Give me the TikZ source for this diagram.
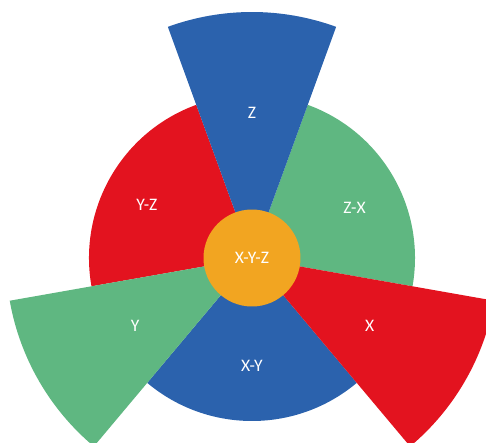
\documentclass[tikz,border=0pt]{standalone}
\usepackage{fontspec}
\setmainfont{Carlito}
\begin{document}
\begin{tikzpicture}[scale=0.02, label/.style={text=white, font=\fontsize{10}{12}\selectfont}]
    % Define colours
    \definecolor{blueSector}{HTML}{2B62AD}
    \definecolor{redSector}{HTML}{E3131F}
    \definecolor{greenSector}{HTML}{5FB781}
    \definecolor{hubColour}{HTML}{F2A521}

    % Define radii
    \def\shortRadius{163}
    \def\longRadius{246}

    % Frame of the picture
    \useasboundingbox (-252,-184) rectangle (234,258);
    \clip (-252,-184) rectangle (234,258);

    % Draw short sectors
    \foreach \start/\finish/\col in {110/190/redSector, -10/70/greenSector, 230/310/blueSector}
        \fill[\col] (0,0) -- (\start:\shortRadius) arc[start angle=\start, end angle=\finish, radius=\shortRadius] -- cycle;

    % Draw long sectors
    \foreach \start/\finish/\col in {70/110/blueSector, 190/230/greenSector, -50/-10/redSector}
        \fill[\col] (0,0) -- (\start:\longRadius) arc[start angle=\start, end angle=\finish, radius=\longRadius] -- cycle;

    % Centre
    \node[circle, fill=hubColour, minimum size=1.94cm, inner sep=0pt, label] (hub) at (0,0) {X-Y-Z};

    % Label sectors
    \node[label] (z) at (90:145) {Z};
    \node[label] (x) at (-30:136) {X};
    \node[label] (y) at (210:135) {Y};
    \node[label] (yz) at (153:118) {Y-Z};
    \node[label] (zx) at (26:114) {Z-X};
    \node[label] (xy) at (270:108) {X-Y};

\end{tikzpicture}
\end{document}
